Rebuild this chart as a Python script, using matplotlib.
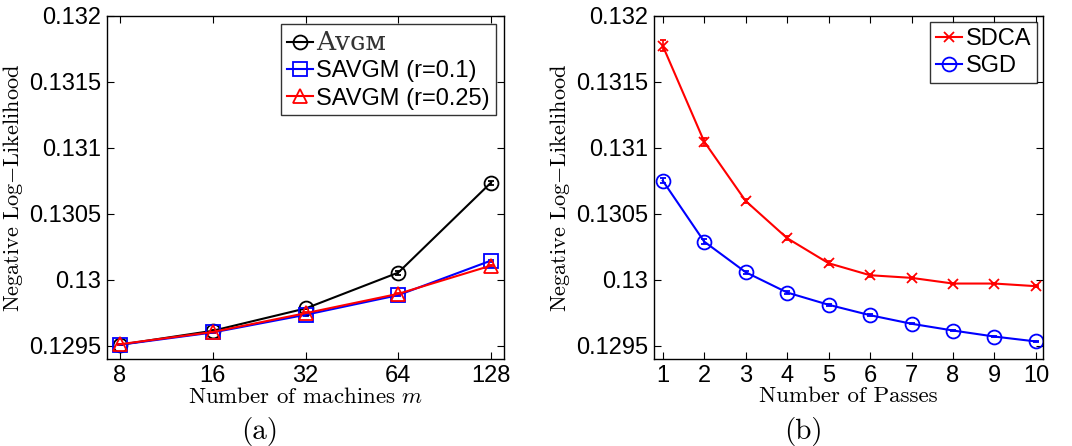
import numpy as np
import matplotlib
matplotlib.use("Agg")
import matplotlib.pyplot as plt

plt.rcParams["mathtext.fontset"] = "cm"

# ---- data: panel (a) ----
machines = [8, 16, 32, 64, 128]
avgm = [0.129508, 0.129614, 0.129783, 0.130055, 0.130737]
avgm_err = [0.000005, 0.000005, 0.000006, 0.000015, 0.000015]
savgm_01 = [0.129508, 0.129601, 0.129735, 0.129884, 0.130146]
savgm_01_err = [0.000005, 0.000005, 0.000006, 0.000008, 0.000008]
savgm_025 = [0.129512, 0.129605, 0.129747, 0.129894, 0.130108]
savgm_025_err = [0.000005, 0.000005, 0.000006, 0.000008, 0.000008]
labels_a = ["A\u1d20\u0262\u1d0d", "SAVGM (r=0.1)", "SAVGM (r=0.25)"]

# ---- data: panel (b) ----
passes = [1, 2, 3, 4, 5, 6, 7, 8, 9, 10]
sdca = [0.131775, 0.131048, 0.130598, 0.130316, 0.130126,
        0.130035, 0.130015, 0.129972, 0.129972, 0.129952]
sdca_err = [0.00004, 0.00003, 0.000012, 0.000015, 0.000015,
            0.00001, 0.000006, 0.000006, 0.000006, 0.000006]
sgd = [0.130752, 0.130290, 0.130058, 0.129904, 0.129811,
       0.129732, 0.129667, 0.129616, 0.129570, 0.129533]
sgd_err = [0.00002, 0.000018, 0.000012, 0.000008, 0.000006,
           0.000006, 0.000005, 0.000005, 0.000005, 0.000005]
labels_b = ["SDCA", "SGD"]

yticks = [0.1295, 0.13, 0.1305, 0.131, 0.1315, 0.132]
ytick_labels = ["0.1295", "0.13", "0.1305", "0.131", "0.1315", "0.132"]

W, H = 1072, 446
fig = plt.figure(figsize=(W / 100, H / 100), dpi=100)
ax1 = fig.add_axes([107 / W, 1 - 359 / H, 397 / W, 343 / H])
ax2 = fig.add_axes([654 / W, 1 - 359 / H, 389 / W, 343 / H])

serif = ["cmr10", "DejaVu Serif"]

def style(ax):
    ax.set_ylim(0.1294, 0.132)
    ax.set_yticks(yticks)
    ax.set_yticklabels(ytick_labels)
    ax.tick_params(direction="in", length=5, width=0.8, top=True, right=True,
                   labelsize=17, pad=4)
    for lab in ax.get_xticklabels() + ax.get_yticklabels():
        lab.set_family("Liberation Sans")
    for s in ax.spines.values():
        s.set_linewidth(1.0)
    ax.set_ylabel("Negative Log$-$Likelihood", family=serif, fontsize=16, labelpad=3)

eb = dict(capsize=2.5, elinewidth=1.2, lw=1.5, markersize=10, mfc="none", mew=1.3)
leg_kw = dict(loc="upper right", fancybox=False, edgecolor="black",
              handlelength=1.1, handletextpad=0.15, borderpad=0.25,
              labelspacing=0.22)

# panel (a)
ax1.set_xscale("log", base=2)
c1 = ax1.errorbar(machines, avgm, yerr=avgm_err, color="black", marker="o", **eb)
c2 = ax1.errorbar(machines, savgm_01, yerr=savgm_01_err, color="blue", marker="s", **eb)
c3 = ax1.errorbar(machines, savgm_025, yerr=savgm_025_err, color="red", marker="^", **eb)
ax1.set_xlim(2 ** 2.86, 2 ** 7.14)
ax1.set_xticks(machines)
ax1.set_xticklabels([str(m) for m in machines])
ax1.minorticks_off()
style(ax1)
ax1.set_xlabel("Number of machines $m$", family=serif, fontsize=16.5, labelpad=0)
leg1 = ax1.legend([c1[0], c2[0], c3[0]], labels_a,
                  prop=dict(family="Liberation Sans", size=17),
                  borderaxespad=0.35, **leg_kw)
leg1.get_frame().set_linewidth(1.0)
leg1.get_texts()[0].set_family(["DejaVu Serif"])
leg1.get_texts()[0].set_fontsize(19)
leg1.get_texts()[0].set_color("#333333")

# panel (b)
eb_x = dict(eb, markersize=7)
d1 = ax2.errorbar(passes, sdca, yerr=sdca_err, color="red", marker="x", **eb_x)
d2 = ax2.errorbar(passes, sgd, yerr=sgd_err, color="blue", marker="o", **eb)
ax2.set_xlim(0.79, 10.17)
ax2.set_xticks(passes)
style(ax2)
ax2.set_xlabel("Number of Passes", family=serif, fontsize=16.5, labelpad=0)
leg2 = ax2.legend([d1[0], d2[0]], labels_b,
                  prop=dict(family="Liberation Sans", size=17),
                  borderaxespad=0.25, **leg_kw)
leg2.get_frame().set_linewidth(1.0)

fig.text(260 / W, 1 - 432 / H, "(a)", family=serif, fontsize=21, ha="center", va="center")
fig.text(803 / W, 1 - 432 / H, "(b)", family=serif, fontsize=21, ha="center", va="center")

fig.savefig("out.png", dpi=100)
